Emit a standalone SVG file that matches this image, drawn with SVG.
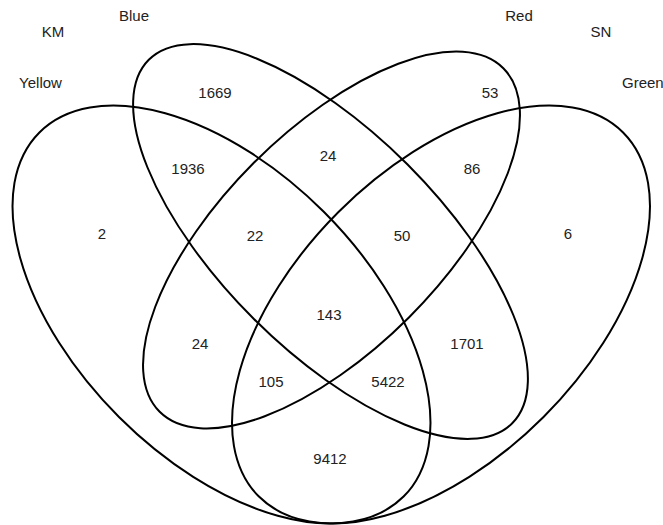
<svg xmlns="http://www.w3.org/2000/svg" width="663" height="525" viewBox="0 0 663 525">
<style>
.set{fill:none;stroke:#000;stroke-width:2}
text{font-family:"Liberation Sans",Arial,Helvetica,sans-serif;font-size:15px;fill:#222;text-anchor:middle}
.start{text-anchor:start}
</style>
<rect width="663" height="525" fill="#fff"/>
<g id="set-yellow">
<ellipse class="set" cx="221.5" cy="314.5" rx="257.5" ry="145" transform="rotate(45 221.5 314.5)"/>
<text x="40.5" y="88">Yellow</text>
</g>
<g id="set-blue">
<ellipse class="set" cx="330.5" cy="241.5" rx="257" ry="109" transform="rotate(45 330.5 241.5)"/>
<text x="134" y="21">Blue</text>
</g>
<g id="set-red">
<ellipse class="set" cx="331.5" cy="240" rx="243" ry="109.5" transform="rotate(-45 331.5 240)"/>
<text x="519" y="21">Red</text>
</g>
<g id="set-green">
<ellipse class="set" cx="441" cy="314.5" rx="257.5" ry="145" transform="rotate(-45 441 314.5)"/>
<text class="start" x="622" y="88">Green</text>
</g>
<g id="group-labels">
<text x="53" y="37">KM</text>
<text x="601" y="37">SN</text>
</g>
<g id="counts">
<text x="215" y="97.5">1669</text>
<text x="490" y="97.5">53</text>
<text x="188" y="173.5">1936</text>
<text x="328" y="160.5">24</text>
<text x="472" y="173.5">86</text>
<text x="102" y="238.5">2</text>
<text x="255" y="240.5">22</text>
<text x="402" y="240.5">50</text>
<text x="568" y="238.5">6</text>
<text x="329" y="319.5">143</text>
<text x="200" y="348.5">24</text>
<text x="467" y="348.5">1701</text>
<text x="271" y="386.5">105</text>
<text x="388" y="386.5">5422</text>
<text x="330" y="463.5">9412</text>
</g>
</svg>
